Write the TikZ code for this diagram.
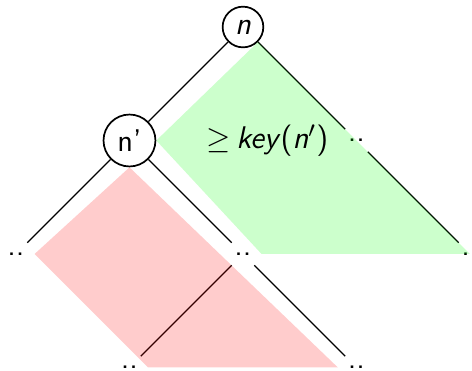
\documentclass[tikz,border=0pt]{standalone}
\usepackage{tikz}
\usetikzlibrary{positioning}

\begin{document}
\begin{tikzpicture}[
  x=1.4cm, y=1.4cm,
  every node/.style={font=\fontsize{11}{13}\selectfont\sffamily},
  vertex/.style={circle, draw, semithick, inner sep=2.4pt},
  edge/.style={thin},
  upper/.style={fill=green, fill opacity=0.2},
  lower/.style={fill=red, fill opacity=0.2},
]
\useasboundingbox (-2.141,-3.031) rectangle (2.018,0.238);

\node[vertex] (n)  at (0,0)   {\textit{n}};
\node[vertex] (n1) at (-1,-1) {n'};
\node (r)   at (1,-1)  {..};
\node (ll)  at (-2,-2) {..};
\node (lr)  at (0,-2)  {..};
\node (rr)  at (2,-2)  {..};
\node (lrl) at (-1,-3) {..};
\node (lrr) at (1,-3)  {..};

% Edges
\draw[edge] (n) -- (n1);
\draw[edge] (n) -- (r);
\draw[edge] (r) -- (rr);
\draw[edge] (n1) -- (ll);
\draw[edge] (n1) -- (lr);
\draw[edge] (lr) -- (lrl);
\draw[edge] (lr) -- (lrr);

% Shaded subtrees
\fill[upper] (n.south east) -- (n1.east) -- (lr.east) -- (rr.center) -- cycle;
\fill[lower] (n1.south) -- (ll.east) -- (lrl.east) -- (lrr.west) -- cycle;

\node[right=0.5cm of n1] (key) {$\geq$\,\textit{key}(\textit{n}$'$)};
\end{tikzpicture}
\end{document}
